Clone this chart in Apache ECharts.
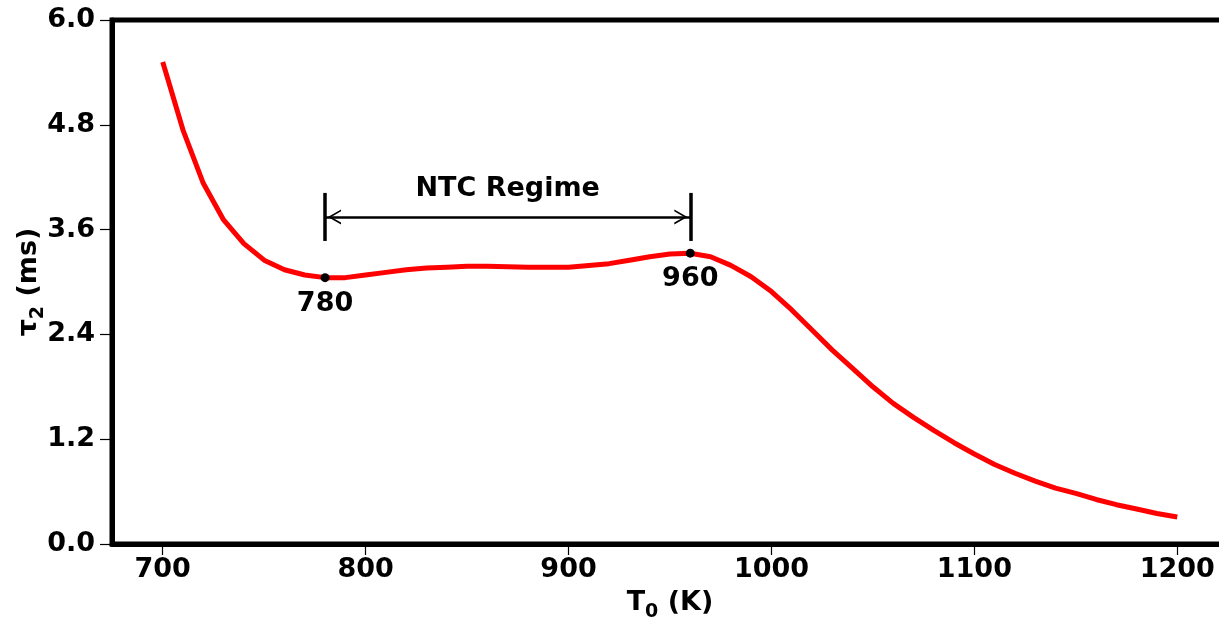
<!DOCTYPE html>
<html>
<head>
<meta charset="utf-8">
<script src="https://cdn.jsdelivr.net/npm/echarts@6/dist/echarts.min.js"></script>
<style>
html,body{margin:0;padding:0;background:#fff;}
#chart{width:1219px;height:618px;}
</style>
</head>
<body>
<div id="chart"></div>
<script>
// Temperature T0 (K)
const temps = [700,710,720,730,740,750,760,770,780,790,800,810,820,830,840,850,860,870,880,890,900,910,920,930,940,950,960,970,980,990,1000,1010,1020,1030,1040,1050,1060,1070,1080,1090,1100,1110,1120,1130,1140,1150,1160,1170,1180,1190,1200];
// tau2 (ms)
const tau = [5.52,4.74,4.13,3.71,3.44,3.25,3.14,3.08,3.05,3.05,3.08,3.11,3.14,3.16,3.17,3.18,3.18,3.175,3.17,3.17,3.17,3.19,3.21,3.25,3.29,3.32,3.33,3.29,3.19,3.06,2.89,2.68,2.45,2.22,2.01,1.80,1.61,1.45,1.30,1.16,1.03,0.91,0.81,0.72,0.64,0.58,0.51,0.45,0.40,0.35,0.31];
// NTC boundary points
const ntcT = [780, 960];
const ntcTau = [3.05, 3.33];
const ntcLabels = ['780', '960'];
// Annotation values (data units)
const barTop = 4.02, barBottom = 3.47, arrowY = 3.745;
const annotationText = 'NTC Regime';
// Tick labels
const xTicks = [700,800,900,1000,1100,1200];
const yTicks = [0,1.2,2.4,3.6,4.8,6.0];

const FONT = 'DejaVu Sans';
const chart = echarts.init(document.getElementById('chart'), null, {renderer:'canvas'});

// open chevron head; a tiny dot on the far side pads the box so the tip sits near the line end
const chevron = 'path://M0,0 L7.5,14 L5.6,14 L0,3.6 L-5.6,14 L-7.5,14 Z M0,-20 L0.05,-20 L0,-19.95 Z';

const nameRich = {
  a: {fontFamily: FONT, fontWeight: 'bold', fontSize: 27, color: '#000', verticalAlign: 'bottom', lineHeight: 32},
  s: {fontFamily: FONT, fontWeight: 'bold', fontSize: 19, color: '#000', verticalAlign: 'bottom', lineHeight: 32, padding: [0,0,-6,0]}
};

const option = {
  animation: false,
  backgroundColor: '#fff',
  grid: {left: 112, top: 20, width: 1116, height: 524, outerBoundsMode: 'none', containLabel: false,
         show: true, borderColor: '#000', borderWidth: 5, backgroundColor: 'transparent'},
  xAxis: {
    type: 'value', min: 675, max: 1225,
    name: '{a|T}{s|0}{a| (K)}', nameLocation: 'middle', nameGap: 40, nameMoveOverlap: false,
    nameTextStyle: {rich: nameRich},
    splitLine: {show: false},
    axisLine: {show: true, onZero: false, lineStyle: {color: '#000', width: 5}},
    axisTick: {show: true, length: 11, lineStyle: {color: '#000', width: 1.2}, customValues: xTicks},
    axisLabel: {customValues: xTicks, fontFamily: FONT, fontWeight: 'bold', fontSize: 27, color: '#000', margin: 12,
      formatter: v => String(v)}
  },
  yAxis: {
    type: 'value', min: 0, max: 6, interval: 1.2,
    name: '{a|τ}{s|2}{a| (ms)}', nameLocation: 'middle', nameGap: 70, nameMoveOverlap: false,
    nameTextStyle: {rich: nameRich},
    splitLine: {show: false},
    axisLine: {show: true, lineStyle: {color: '#000', width: 5}},
    axisTick: {show: true, length: 12, lineStyle: {color: '#000', width: 1.2}},
    axisLabel: {fontFamily: FONT, fontWeight: 'bold', fontSize: 27, color: '#000', margin: 17,
      formatter: v => v.toFixed(1)}
  },
  series: [
    {
      type: 'line',
      data: temps.map((t, i) => [t, tau[i]]),
      showSymbol: false,
      lineStyle: {color: '#ff0000', width: 5},
      itemStyle: {color: '#ff0000'},
      z: 2,
      markLine: {
        silent: true,
        animation: false,
        label: {show: false},
        lineStyle: {color: '#000', type: 'solid'},
        data: [
          [{coord: [ntcT[0], barTop], symbol: 'none', lineStyle: {width: 3.5, color: '#000', type: 'solid'}},
           {coord: [ntcT[0], barBottom], symbol: 'none'}],
          [{coord: [ntcT[1], barTop], symbol: 'none', lineStyle: {width: 3.5, color: '#000', type: 'solid'}},
           {coord: [ntcT[1], barBottom], symbol: 'none'}],
          [{coord: [ntcT[0], arrowY], symbol: chevron, symbolSize: [15, 32], lineStyle: {width: 2.5, color: '#000', type: 'solid'},
            label: {show: true, position: 'middle', formatter: annotationText, distance: 14, fontFamily: FONT, fontWeight: 'bold', fontSize: 27, color: '#000'}},
           {coord: [ntcT[1], arrowY], symbol: chevron, symbolSize: [15, 32]}]
        ]
      }
    },
    {
      type: 'scatter',
      data: ntcT.map((t, i) => ({value: [t, ntcTau[i]], label: {formatter: ntcLabels[i], color: '#000'}})),
      symbolSize: 9,
      itemStyle: {color: '#000', opacity: 1},
      z: 5,
      label: {show: true, position: 'bottom', distance: 8, fontFamily: FONT, fontWeight: 'bold', fontSize: 27, color: '#000', opacity: 1}
    }
  ]
};
chart.setOption(option);
</script>
</body>
</html>
